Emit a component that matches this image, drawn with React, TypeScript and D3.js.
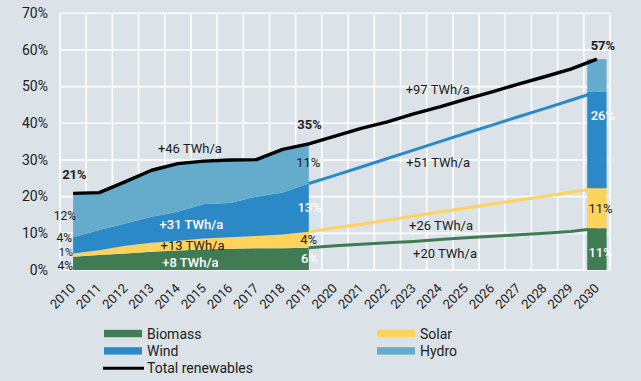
import React from 'react';
import * as d3 from 'd3';

const years = [2010, 2011, 2012, 2013, 2014, 2015, 2016, 2017, 2018, 2019, 2020, 2021, 2022, 2023, 2024, 2025, 2026, 2027, 2028, 2029, 2030];
const yTicks = [0, 10, 20, 30, 40, 50, 60, 70];

// shares of gross electricity consumption, %
const biomass = [3.6, 4.1, 4.5, 5.0, 5.3, 5.6, 5.8, 5.9, 5.9, 6.1, 6.6, 7.0, 7.4, 7.8, 8.3, 8.8, 9.2, 9.6, 10.0, 10.5, 11.4];
const solar = [0.9, 1.3, 2.1, 2.4, 2.7, 3.0, 3.1, 3.4, 3.8, 4.3, 4.9, 5.5, 6.2, 6.9, 7.5, 8.1, 8.8, 9.4, 10.1, 10.7, 10.9];
const wind = [4.4, 5.5, 6.1, 7.1, 7.9, 9.4, 9.4, 10.7, 11.4, 13.2, 14.3, 15.6, 16.8, 18.0, 19.2, 20.4, 21.5, 22.8, 23.9, 25.1, 26.3];
const hydro = [12.0, 10.2, 11.4, 12.7, 13.1, 11.7, 11.7, 10.1, 11.8, 10.8, 10.7, 10.5, 10.0, 9.9, 9.5, 9.3, 9.1, 8.9, 8.7, 8.5, 8.9];

const lastHistYear = 2019;
const barYear = 2030;

const seriesKeys = ['biomass', 'solar', 'wind', 'hydro'];
const seriesNames = ['Biomass', 'Solar', 'Wind', 'Hydro'];
const seriesColors = ['#3f7c53', '#fed35c', '#2b89c8', '#65abcb'];

// annotations: text, year position, value (%) position, anchor, fill, weight
const annText = ['21%', '35%', '57%', '+46 TWh/a', '+31 TWh/a', '+13 TWh/a', '+8 TWh/a', '12%', '4%', '1%', '4%', '11%', '13%', '4%', '6%', '+97 TWh/a', '+51 TWh/a', '+26 TWh/a', '+20 TWh/a', '26%', '11%', '11%'];
const annYear = [2010.05, 2019.03, 2030.23, 2014.46, 2014.52, 2014.56, 2014.48, 2010.11, 2009.96, 2010.0, 2010.0, 2018.98, 2019.03, 2018.99, 2019.03, 2023.92, 2023.94, 2024.05, 2024.2, 2030.23, 2030.14, 2030.14];
const annValue = [24.8, 38.4, 59.9, 31.9, 11.2, 5.45, 0.8, 13.6, 7.6, 3.95, 0.0, 28.0, 15.9, 7.2, 1.95, 47.9, 28.1, 10.9, 3.3, 40.9, 15.6, 3.6];
const annAnchor = ['middle', 'middle', 'middle', 'middle', 'middle', 'middle', 'middle', 'end', 'end', 'end', 'end', 'middle', 'middle', 'middle', 'middle', 'middle', 'middle', 'middle', 'middle', 'middle', 'middle', 'middle'];
const annWhite = [0, 0, 0, 0, 1, 0, 1, 0, 0, 0, 0, 0, 1, 0, 1, 0, 0, 0, 0, 1, 0, 1];
const annBold = [1, 1, 1, 0, 0, 0, 0, 0, 0, 0, 0, 0, 0, 0, 0, 0, 0, 0, 0, 0, 0, 0];
const annSize = [13, 13, 13, 13, 13, 13, 13, 12, 12, 11, 12, 13, 13, 13, 13, 13, 13, 13, 13, 13, 13, 13];

const W = 641;
const H = 381;
const FONT = 'Roboto, "Noto Sans", sans-serif';
const TEXT = '#1c1c1c';
const BG = '#dbe2e8';

export default function App() {
  const rows = years.map((yr, i) => ({ year: yr, biomass: biomass[i], solar: solar[i], wind: wind[i], hydro: hydro[i] }));
  const stacked = d3.stack<any>().keys(seriesKeys)(rows);

  const x = d3.scaleBand<number>().domain(years).range([60, 610]).padding(0);
  const xc = (yr: number) => (x(yr) as number) + x.bandwidth() / 2;
  const xn = d3.scaleLinear().domain([2010, 2030]).range([xc(2010), xc(2030)]);
  const y = d3.scaleLinear().domain([0, 70]).range([270, 13.3]);

  const area = d3.area<any>()
    .x((d) => xc(d.data.year))
    .y0((d) => y(d[0]))
    .y1((d) => y(d[1]));
  const topLine = d3.line<any>()
    .x((d) => xc(d.data.year))
    .y((d) => y(d[1]));
  const totalLine = d3.line<any>()
    .x((d) => xc(d.year))
    .y((d) => y(d.biomass + d.solar + d.wind + d.hydro));

  const bw = x.bandwidth() * 0.74;

  const legend = [
    { key: 'biomass', col: 0, row: 0 },
    { key: 'wind', col: 0, row: 1 },
    { key: 'solar', col: 1, row: 0 },
    { key: 'hydro', col: 1, row: 1 },
  ];

  return (
    <svg width={W} height={H} style={{ position: 'absolute', left: 0, top: 0, display: 'block' }}>
      <style>{`body{margin:0}`}</style>
      <rect x={0} y={0} width={W} height={H} fill={BG} />
      {/* grid */}
      <g stroke="#ffffff" strokeWidth={1.6}>
        {yTicks.map((t) => (
          <line key={'h' + t} x1={60} x2={610} y1={y(t)} y2={y(t)} />
        ))}
        {years.map((yr) => (
          <line key={'v' + yr} x1={x(yr) as number} x2={x(yr) as number} y1={y(70)} y2={y(0)} />
        ))}
        <line x1={610} x2={610} y1={y(70)} y2={y(0)} />
      </g>
      {/* y labels */}
      {yTicks.map((t) => (
        <text key={'yl' + t} x={48} y={y(t) + 4.6} textAnchor="end" fontFamily={FONT} fontSize={14} fill={TEXT}>
          {t}%
        </text>
      ))}
      {/* x labels */}
      {years.map((yr) => (
        <text key={'xl' + yr} transform={`translate(${xc(yr) + 3},${289}) rotate(-45)`} textAnchor="end" fontFamily={FONT} fontSize={13} fill={TEXT}>
          {yr}
        </text>
      ))}
      {/* historical stacked areas */}
      {stacked.map((s, i) => (
        <path key={'a' + i} d={area(s.filter((d: any) => d.data.year <= lastHistYear)) as string} fill={seriesColors[i]} />
      ))}
      {/* projection lines */}
      {stacked.slice(0, 3).map((s, i) => (
        <path key={'p' + i} d={topLine(s.filter((d: any) => d.data.year >= lastHistYear)) as string} fill="none" stroke={seriesColors[i]} strokeWidth={3} />
      ))}
      {/* 2030 bar */}
      {stacked.map((s, i) => {
        const d: any = s.find((e: any) => e.data.year === barYear);
        return <rect key={'b' + i} x={xc(barYear) - bw / 2} width={bw} y={y(d[1])} height={y(d[0]) - y(d[1])} fill={seriesColors[i]} />;
      })}
      {/* total */}
      <path d={totalLine(rows) as string} fill="none" stroke="#000" strokeWidth={3.4} strokeLinejoin="round" />
      {/* annotations */}
      {annText.map((t, i) => (
        <text
          key={'an' + i}
          x={xn(annYear[i])}
          y={y(annValue[i])}
          textAnchor={annAnchor[i] as any}
          fontFamily={FONT}
          fontSize={annSize[i]}
          fontWeight={annBold[i] ? 700 : annWhite[i] ? 500 : 400}
          fill={annWhite[i] ? '#ffffff' : TEXT}
        >
          {t}
        </text>
      ))}
      {/* legend */}
      {legend.map((l) => {
        const idx = seriesKeys.indexOf(l.key);
        const lx = 104 + l.col * 273;
        const ly = 333.5 + l.row * 17.4;
        return (
          <g key={'lg' + l.key}>
            <rect x={lx} y={ly - 3.7} width={38} height={7.4} fill={seriesColors[idx]} />
            <text x={lx + 43} y={ly + 5} fontFamily={FONT} fontSize={14} fill={TEXT}>
              {seriesNames[idx]}
            </text>
          </g>
        );
      })}
      <line x1={103} x2={144} y1={368.3} y2={368.3} stroke="#000" strokeWidth={3} />
      <text x={147} y={373.3} fontFamily={FONT} fontSize={14} fill={TEXT}>
        Total renewables
      </text>
    </svg>
  );
}
